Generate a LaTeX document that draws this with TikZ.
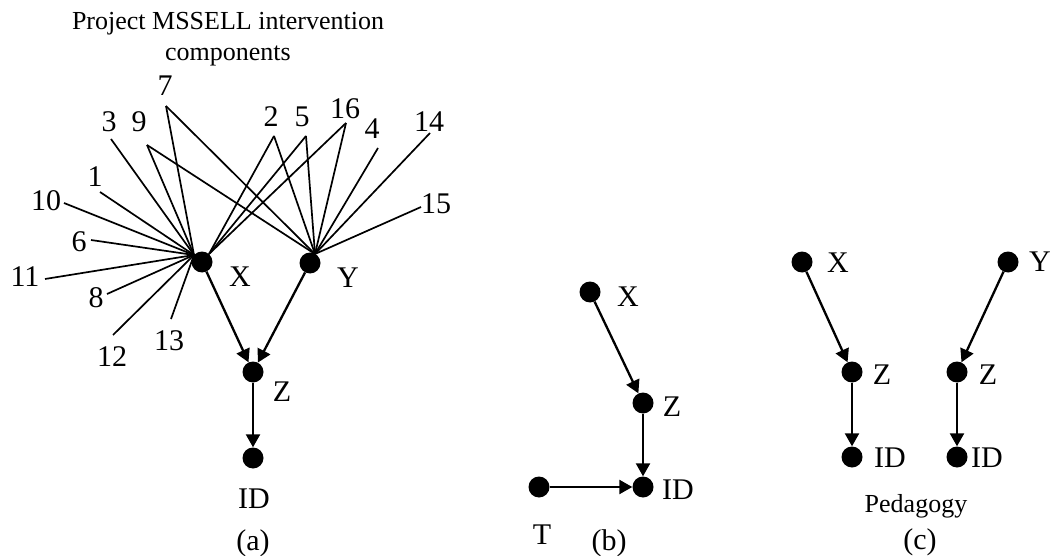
\documentclass[tikz,border=0pt]{standalone}
\usepackage{fontspec}
\setmainfont{Liberation Serif}
\usetikzlibrary{arrows.meta}
\begin{document}
\begin{tikzpicture}[x=1pt,y=-1pt,
  dot/.style={circle,fill=black,inner sep=0pt,minimum size=21pt},
  lbl/.style={inner sep=0pt,font=\fontsize{30}{30}\selectfont},
  small/.style={inner sep=0pt,font=\fontsize{26}{26}\selectfont},
  fan/.style={line width=1.7pt},
  arr/.style={line width=2.3pt,-{Triangle[length=13pt,width=14pt]}}]
\useasboundingbox (0,0) rectangle (1052,556);

% ---------- (a) ----------
\node[small,anchor=base] (title1) at (228,30) {Project MSSELL intervention};
\node[small,anchor=base] (title2) at (228,61) {components};

\node[dot] (aX) at (202,262) {};
\node[dot] (aY) at (310,263) {};
\node[dot] (aZ) at (253,372) {};
\node[dot] (aID) at (253,458) {};
\node[lbl] (aXl) at (240,277) {X};
\node[lbl] (aYl) at (348,278) {Y};
\node[lbl] (aZl) at (282,392) {Z};
\node[lbl] (aIDl) at (254,499) {ID};
\node[lbl] (acap) at (253,543) {(a)};

\coordinate (XL) at (194,255);
\coordinate (XR) at (209,254);
\coordinate (YT) at (315,254);

\node[lbl] (n7) at (165,86) {7};
\node[lbl] (n3) at (109,122) {3};
\node[lbl] (n9) at (139,122) {9};
\node[lbl] (n2) at (271,117) {2};
\node[lbl] (n5) at (302,117) {5};
\node[lbl] (n16) at (345,109) {16};
\node[lbl] (n4) at (372,129) {4};
\node[lbl] (n14) at (429,122) {14};
\node[lbl] (n1) at (95,177) {1};
\node[lbl] (n10) at (46,201) {10};
\node[lbl] (n6) at (79,242) {6};
\node[lbl] (n15) at (436,204) {15};
\node[lbl] (n11) at (25,277) {11};
\node[lbl] (n8) at (96,298) {8};
\node[lbl] (n12) at (112,357) {12};
\node[lbl] (n13) at (169,341) {13};

\coordinate (e7) at (166,106);
\coordinate (e3) at (111,139);
\coordinate (e9) at (147,145);
\coordinate (e2) at (274,136);
\coordinate (e5) at (306,136);
\coordinate (e16) at (346,123);
\coordinate (e4) at (378,148);
\coordinate (e14) at (430,133);
\coordinate (e1) at (100,192);
\coordinate (e10) at (64,203);
\coordinate (e6) at (91,240);
\coordinate (e15) at (421,207);
\coordinate (e11) at (45,279);
\coordinate (e8) at (107,294);
\coordinate (e12) at (113,335);
\coordinate (e13) at (171,319);

\foreach \e in {e7,e3,e9,e1,e10,e6,e11,e8,e12,e13}
  \draw[fan] (\e) -- (XL);
\foreach \e in {e2,e5,e16}
  \draw[fan] (\e) -- (XR);
\foreach \e in {e7,e9,e2,e5,e16,e4,e14,e15}
  \draw[fan] (\e) -- (YT);

\draw[arr] (aX) -- (aZ);
\draw[arr] (aY) -- (aZ);
\draw[arr] (aZ) -- (aID);

% ---------- (b) ----------
\node[dot] (bX) at (590,292) {};
\node[dot] (bZ) at (643,403) {};
\node[dot] (bID) at (643,487) {};
\node[dot] (bT) at (539,487) {};
\node[lbl] (bXl) at (628,297) {X};
\node[lbl] (bZl) at (672,407) {Z};
\node[lbl] (bIDl) at (678,490) {ID};
\node[lbl] (bTl) at (542,535) {T};
\node[lbl] (bcap) at (609,543) {(b)};
\draw[arr] (bX) -- (bZ);
\draw[arr] (bZ) -- (bID);
\draw[arr] (bT) -- (bID);

% ---------- (c) ----------
\node[dot] (cX) at (802,262) {};
\node[dot] (cY) at (1008,262) {};
\node[dot] (cZ1) at (852,372) {};
\node[dot] (cZ2) at (957,372) {};
\node[dot] (cID1) at (852,457) {};
\node[dot] (cID2) at (957,457) {};
\node[lbl] (cXl) at (838,263) {X};
\node[lbl] (cYl) at (1040,262) {Y};
\node[lbl] (cZ1l) at (882,375) {Z};
\node[lbl] (cZ2l) at (988,375) {Z};
\node[lbl] (cID1l) at (890,458) {ID};
\node[lbl] (cID2l) at (987,458) {ID};
\node[small,anchor=base] (ped) at (916,512) {Pedagogy};
\node[lbl] (ccap) at (920,542) {(c)};
\draw[arr] (cX) -- (cZ1);
\draw[arr] (cY) -- (cZ2);
\draw[arr] (cZ1) -- (cID1);
\draw[arr] (cZ2) -- (cID2);
\end{tikzpicture}
\end{document}
